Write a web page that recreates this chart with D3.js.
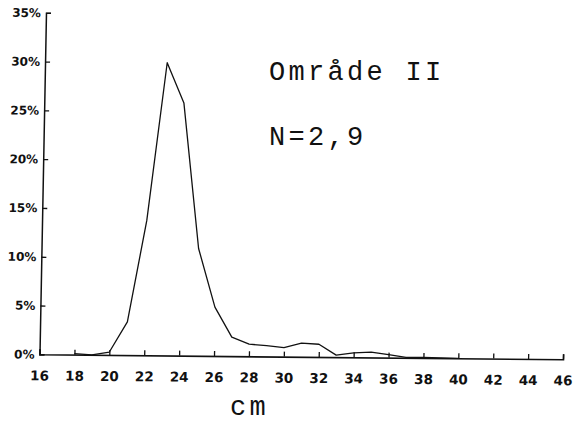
<!DOCTYPE html>
<html>
<head>
<meta charset="utf-8">
<script src="https://cdn.jsdelivr.net/npm/d3@7"></script>
<style>
  html, body { margin: 0; padding: 0; background: #fff; }
  svg { display: block; }
</style>
</head>
<body>
<svg id="chart" width="574" height="425"></svg>
<script>
// Length distribution (cm) and share of catch (%)
const lengths = [18, 19, 20, 21, 22, 23, 24, 25, 26, 27, 28, 29, 30, 31, 32, 33, 34, 35, 36, 37, 38, 39, 40];
const shares  = [0.1, 0.0, 0.3, 3.4, 13.8, 30.0, 25.9, 11.0, 5.0, 1.95, 1.25, 1.1, 0.93, 1.4, 1.3, 0.2, 0.45, 0.55, 0.3, 0.05, 0.05, 0.02, 0.0];

const xTicks = [16, 18, 20, 22, 24, 26, 28, 30, 32, 34, 36, 38, 40, 42, 44, 46];
const yTicks = [0, 5, 10, 15, 20, 25, 30, 35];
const yTickLabels = ["0%", "5%", "10%", "15%", "20%", "25%", "30%", "35%"];

const titleLines = ["Område II", "N=2,9"];
const xTitle = "cm";

const svg = d3.select("#chart");
const ink = "#111";

// Plot frame: origin at (16 cm, 0 %); the sheet sits slightly askew
const ox = 39.5, oy = 354.3;
const skewX = -0.019, skewY = 0.0095;

const x = d3.scaleLinear().domain([16, 46]).range([0, 523.5]);
const y = d3.scaleLinear().domain([0, 35]).range([0, -341.5]);

const plot = svg.append("g")
  .attr("transform", `matrix(1 ${skewY} ${skewX} 1 ${ox} ${oy})`);

// x axis with inward ticks
const xAxis = d3.axisBottom(x)
  .tickValues(xTicks)
  .tickFormat(d3.format("d"))
  .tickSizeInner(-5)
  .tickSizeOuter(-5)
  .tickPadding(16.5);

const gx = plot.append("g").call(xAxis);
gx.select(".domain").attr("stroke", ink).attr("stroke-width", 1.6);
gx.selectAll(".tick line").attr("stroke", ink).attr("stroke-width", 1.3);
gx.selectAll(".tick text")
  .attr("fill", ink)
  .style("font-family", "'DejaVu Sans', sans-serif")
  .style("font-weight", "bold")
  .style("font-size", "13.5px");

// y axis with inward ticks
const yAxis = d3.axisLeft(y)
  .tickValues(yTicks)
  .tickFormat((d, i) => yTickLabels[i])
  .tickSizeInner(-5)
  .tickSizeOuter(-5)
  .tickPadding(5);

const gy = plot.append("g").call(yAxis);
gy.select(".domain").attr("stroke", ink).attr("stroke-width", 1.5);
gy.selectAll(".tick line").attr("stroke", ink).attr("stroke-width", 1.3);
gy.selectAll(".tick text")
  .attr("fill", ink)
  .style("font-family", "'DejaVu Sans', sans-serif")
  .style("font-weight", "bold")
  .style("font-size", "12px");

// Distribution curve
const line = d3.line()
  .x((d, i) => x(lengths[i]))
  .y(d => y(d));

plot.append("path")
  .datum(shares)
  .attr("fill", "none")
  .attr("stroke", ink)
  .attr("stroke-width", 1.3)
  .attr("stroke-linejoin", "round")
  .attr("d", line);

// Area label and sample size
const monoFont = "'Liberation Mono', 'Courier New', monospace";
svg.selectAll("text.title")
  .data(titleLines)
  .enter().append("text")
  .attr("class", "title")
  .attr("x", 269)
  .attr("y", (d, i) => 80 + i * 65)
  .attr("fill", ink)
  .style("font-family", monoFont)
  .style("font-size", "27px")
  .style("letter-spacing", "3.3px")
  .text(d => d);

// Axis title
svg.append("text")
  .attr("x", 230)
  .attr("y", 415)
  .attr("fill", ink)
  .style("font-family", monoFont)
  .style("font-size", "27px")
  .style("letter-spacing", "3.3px")
  .text(xTitle);
</script>
</body>
</html>
